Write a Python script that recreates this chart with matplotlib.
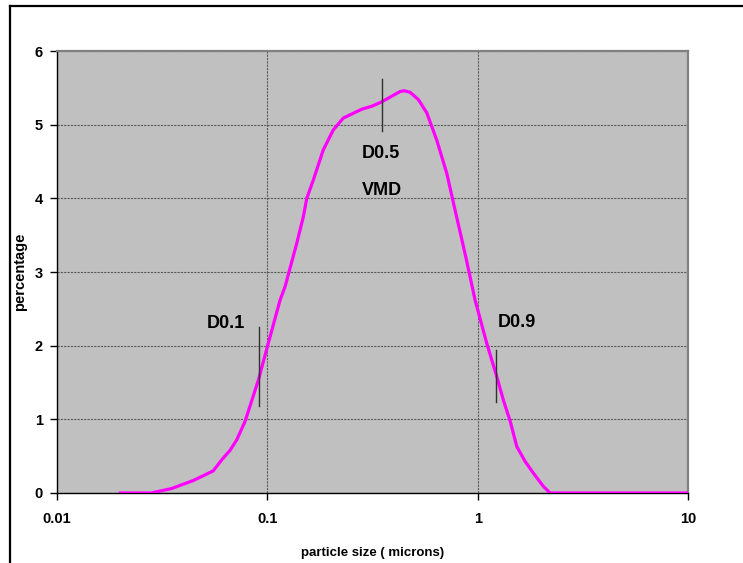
import matplotlib
matplotlib.use("Agg")
import matplotlib.pyplot as plt
from matplotlib.lines import Line2D
from matplotlib.ticker import FixedLocator, NullLocator

# Kurve (Partikelgröße in Mikron, Prozentanteil)
size = [0.02, 0.028, 0.035, 0.0445, 0.0553, 0.0607, 0.0665, 0.0715, 0.0783,
        0.0906, 0.101, 0.115, 0.1214, 0.138, 0.1483, 0.154, 0.1655, 0.1846,
        0.206, 0.2298, 0.2812, 0.3136, 0.35, 0.4276, 0.4467, 0.477, 0.5226,
        0.573, 0.639, 0.713, 0.781, 0.871, 0.972, 1.105, 1.233, 1.325, 1.426,
        1.535, 1.68, 1.84, 2.053, 2.21, 10]
percent = [0, 0, 0.06, 0.17, 0.30, 0.45, 0.58, 0.72, 0.97,
           1.53, 2.03, 2.62, 2.80, 3.39, 3.75, 4.00, 4.25, 4.66,
           4.93, 5.09, 5.21, 5.25, 5.31, 5.45, 5.46, 5.44, 5.34,
           5.16, 4.79, 4.34, 3.84, 3.25, 2.62, 2.03, 1.58, 1.26, 0.98,
           0.63, 0.43, 0.27, 0.09, 0, 0]

# D-Werte als senkrechte Striche
marker_x = [0.0913, 0.35, 1.228]
marker_lo = [1.18, 4.91, 1.24]
marker_hi = [2.25, 5.62, 1.94]

# Beschriftungen
label_text = ["D0.1", "D0.5", "VMD", "D0.9"]
label_x = [0.0633, 0.347, 0.351, 1.539]
label_y = [2.30, 4.615, 4.10, 2.31]

x_ticks = [0.01, 0.1, 1, 10]
x_tick_labels = ["0.01", "0.1", "1", "10"]
y_ticks = [0, 1, 2, 3, 4, 5, 6]

fig = plt.figure(figsize=(7.43, 5.63), dpi=100)
ax = fig.add_axes([57 / 743, 1 - 493 / 563, 631 / 743, 442 / 563])
ax.set_facecolor("#C0C0C0")

ax.set_xscale("log")
ax.set_xlim(0.01, 10)
ax.set_ylim(0, 6)

ax.xaxis.set_major_locator(FixedLocator(x_ticks))
ax.xaxis.set_minor_locator(NullLocator())
ax.set_xticklabels(x_tick_labels)
ax.set_yticks(y_ticks)

tick_font = dict(family=["Liberation Sans Narrow", "Liberation Sans"],
                 weight="bold", size=10.5)
for lab in ax.get_xticklabels() + ax.get_yticklabels():
    lab.set_fontproperties(matplotlib.font_manager.FontProperties(**tick_font))

ax.tick_params(axis="x", direction="out", length=5, width=1, pad=9, colors="black")
ax.tick_params(axis="y", direction="out", length=5, width=1, pad=5, colors="black")

# Gitterlinien
ax.grid(True, which="major", color="#5a5a5a", linestyle=(0, (2, 1)), linewidth=0.8)
ax.set_axisbelow(True)

for side in ["top", "right"]:
    ax.spines[side].set_color("#808080")
    ax.spines[side].set_linewidth(1.6)
for side in ["left", "bottom"]:
    ax.spines[side].set_color("black")
    ax.spines[side].set_linewidth(1.0)

ax.plot(size, percent, color="#FF00FF", linewidth=2.3, zorder=3)

for mx, lo, hi in zip(marker_x, marker_lo, marker_hi):
    ax.plot([mx, mx], [lo, hi], color="#303030", linewidth=1.0, zorder=4)

for t, tx, ty in zip(label_text, label_x, label_y):
    ax.text(tx, ty, t, ha="center", va="center", fontsize=13,
            fontweight="bold", family="Liberation Sans", zorder=5)

ax.set_xlabel("particle size ( microns)", fontsize=9.5, fontweight="bold",
              family="Liberation Sans")
ax.set_ylabel("percentage", fontsize=10.5, fontweight="bold",
              family="Liberation Sans")
ax.xaxis.set_label_coords(0.5, -0.122)
ax.yaxis.set_label_coords(-0.047, 0.5)

# Rahmen um das Diagramm (rechts und unten abgeschnitten)
fig.add_artist(Line2D([10 / 743, 1.0], [1 - 5.7 / 563, 1 - 5.7 / 563],
                      transform=fig.transFigure, color="black", linewidth=1.6))
fig.add_artist(Line2D([10 / 743, 10 / 743], [0.0, 1 - 5.7 / 563],
                      transform=fig.transFigure, color="black", linewidth=1.6))

fig.savefig("out.png", dpi=100)
